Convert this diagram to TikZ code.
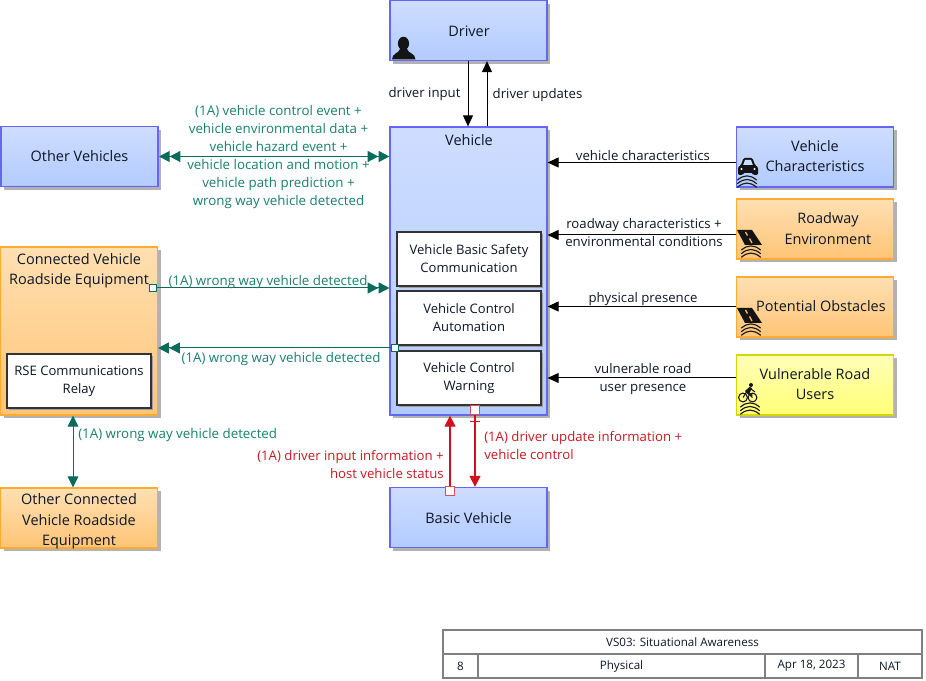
\documentclass[tikz,border=0pt]{standalone}
\usepackage{fontspec}
\setmainfont{Open Sans}
\usetikzlibrary{arrows.meta,shadows}
\definecolor{tealline}{HTML}{0B6B5B}
\definecolor{tealtext}{HTML}{17806F}
\definecolor{redline}{HTML}{D0121E}
\definecolor{redtext}{HTML}{C41A22}
\definecolor{inktext}{HTML}{0E1626}
\definecolor{blueedge}{HTML}{6666F5}
\definecolor{bluetop}{HTML}{CEDDFF}
\definecolor{bluebot}{HTML}{B2CBFF}
\definecolor{orangeedge}{HTML}{FFAB30}
\definecolor{orangetop}{HTML}{FFE0B2}
\definecolor{orangebot}{HTML}{FFC476}
\definecolor{yellowedge}{HTML}{D6D600}
\definecolor{yellowtop}{HTML}{FFFFB8}
\definecolor{yellowbot}{HTML}{FFFF76}
\definecolor{rulegray}{HTML}{808080}
\tikzset{
  x=0.75pt,y=-0.75pt,
  boxtext/.style={font=\fontsize{10.85pt}{15pt}\selectfont,align=center,inner sep=0pt,text=inktext},
  smalltext/.style={font=\fontsize{9.8pt}{13.5pt}\selectfont,align=center,inner sep=0pt,text=inktext},
  flowtext/.style={font=\fontsize{9.9pt}{13.4pt}\selectfont,align=center,inner sep=0pt,text=inktext},
  tealflow/.style={flowtext,font=\fontsize{10pt}{13.4pt}\selectfont,text=tealtext},
  redflow/.style={flowtext,text=redtext},
  cardbox/.style={rectangle,line width=0.95pt,inner sep=0pt,
    drop shadow={shadow xshift=2.4pt,shadow yshift=-2.4pt,fill=black!30,opacity=1}},
  bluecard/.style={cardbox,boxtext,draw=blueedge,top color=bluetop,bottom color=bluebot},
  orangecard/.style={cardbox,boxtext,draw=orangeedge,top color=orangetop,bottom color=orangebot},
  yellowcard/.style={cardbox,boxtext,draw=yellowedge,top color=yellowtop,bottom color=yellowbot},
  whitecard/.style={rectangle,smalltext,draw=black!80,line width=1pt,fill=white,minimum width=108pt,minimum height=40.5pt,
    drop shadow={shadow xshift=1.8pt,shadow yshift=-1.8pt,fill=black!38,opacity=1}},
  wide/.style={minimum width=117.75pt},
  tall/.style={minimum height=45pt},
  flow/.style={draw=black,line width=0.75pt,-{Triangle[length=8.25pt,width=7.5pt]}},
  tealboth/.style={draw=tealline,line width=0.75pt,
    {Triangle[length=8pt,width=8.25pt,sep=0.3pt]Triangle[length=8pt,width=8.25pt]}-{Triangle[length=8pt,width=8.25pt,sep=0.3pt]Triangle[length=8pt,width=8.25pt]}},
  tealone/.style={draw=tealline,line width=0.75pt,-{Triangle[length=8pt,width=8.25pt,sep=0.3pt]Triangle[length=8pt,width=8.25pt]}},
  tealsingle/.style={draw=tealline,line width=0.75pt,{Triangle[length=8.25pt,width=8pt]}-{Triangle[length=8.25pt,width=8pt]}},
  redarrow/.style={draw=redline,line width=0.85pt,-{Triangle[length=8.25pt,width=8.25pt]}},
  tealport/.style={rectangle,draw=tealline,fill=white,line width=0.8pt,minimum size=5.25pt,inner sep=0pt},
  redport/.style={rectangle,draw=redline!75!white,fill=white,line width=0.9pt,minimum size=6.4pt,inner sep=0pt},
  cell/.style={rectangle,draw=rulegray,line width=0.85pt,fill=white,inner sep=0pt,font=\fontsize{8.7pt}{10pt}\selectfont,text=inktext,
    drop shadow={shadow xshift=1.1pt,shadow yshift=-1.1pt,fill=black!28,opacity=1}},
  iconink/.style={fill=black!92,draw=none},
  iconarc/.style={draw=black!90,line width=0.85pt,line cap=round},
}
% Three curved ripples under an icon, centred on #1 with the top at #2.
\newcommand{\ripples}[2]{%
  \foreach \d in {0,3.6,7.2}{%
    \draw[iconarc] (#1-9.5,#2+4+\d) .. controls (#1-3,#2-1.5+\d) and (#1+3,#2-1.5+\d) .. (#1+9.5,#2+4+\d);
  }%
}
% Road segment seen in perspective, with its ripples.
\newcommand{\roadicon}{%
  \fill[iconink] (737,230) -- (752,230) -- (762,245) -- (745,245) -- cycle;
  \draw[orange!60!white,line width=1pt] (745.5,232) -- (747.5,235.5) (749.5,238.5) -- (752,243);
  \ripples{751}{246}
}
\begin{document}
\begin{tikzpicture}
\useasboundingbox (0,0) rectangle (926,681);

% Actors and equipment
\node[bluecard,wide,tall] (driver) at (468.5,30.5) {};
\node[boxtext] (drivertext) at (469,31) {Driver};
\node[bluecard,wide,minimum height=216pt] (vehicle) at (468.5,271) {};
\node[boxtext] (vehicletitle) at (469,140) {Vehicle};
\node[bluecard,wide,tall] (others) at (79.5,156.5) {Other Vehicles};
\node[bluecard,wide,tall] (chars) at (815,157) {};
\node[boxtext] (charstext) at (815,156.3) {Vehicle\\[0.3pt]Characteristics};
\node[orangecard,wide,tall] (roadway) at (815,229) {};
\node[orangecard,wide,tall] (obstacles) at (815,307) {};
\node[yellowcard,wide,tall] (vru) at (815,385) {};
\node[boxtext] (vrutext) at (815,384) {Vulnerable Road\\[0.3pt]Users};
\node[orangecard,wide,minimum height=126pt] (cvrse) at (79,331) {};
\node[boxtext] (cvrsetitle) at (79,271) {Connected Vehicle\\[0.3pt]Roadside Equipment};
\node[orangecard,wide,tall] (othercv) at (79,518) {};
\node[boxtext] (othercvtext) at (79,521.5) {Other Connected\\[0.3pt]Vehicle Roadside\\[0.3pt]Equipment};
\node[bluecard,wide,tall] (basic) at (468.5,517.5) {};
\node[boxtext] (basictext) at (468.5,518) {Basic Vehicle};

% Functional objects
\node[whitecard] (bsc) at (469,259) {Vehicle Basic Safety\\Communication};
\node[whitecard] (automation) at (469,318) {Vehicle Control\\Automation};
\node[whitecard] (warning) at (469,378) {Vehicle Control\\Warning};
\node[whitecard] (relay) at (79,381) {RSE Communications\\Relay};

% Driver silhouette
\fill[iconink] (403.5,43.5) ellipse (5.6 and 6.8);
\fill[iconink] (392,59.5) .. controls (392,53) and (399,53.5) .. (400,49) -- (407,49)
  .. controls (408,53.5) and (415.5,53) .. (415.5,59.5) -- cycle;

% Car seen from the front
\fill[iconink,rounded corners=1pt] (738,175) -- (738,167) -- (741,165) -- (743.5,158) -- (752.5,158)
  -- (755,165) -- (758,167) -- (758,175) -- (753,175) -- (753,173) -- (743,173) -- (743,175) -- cycle;
\fill[bluetop] (745,160) -- (751,160) -- (752.8,165) -- (743.2,165) -- cycle;
\fill[white] (741.5,169) circle (1.2) (754.5,169) circle (1.2);
\ripples{747}{176}

% Road signs
\roadicon
\begin{scope}[shift={(0,78)}]
  \roadicon
\end{scope}
\node[boxtext] (roadwaytext) at (828,228.5) {Roadway\\[0.3pt]Environment};
\node[boxtext] (obstaclestext) at (821,306) {Potential Obstacles};

% Cyclist
\draw[black!90,line width=0.8pt] (743,397.5) circle (4.4) (752.5,397.5) circle (4.4);
\fill[iconink] (751,385) circle (2);
\fill[iconink] (749.5,387) -- (752,388) -- (749.5,393) -- (753,395) -- (751.5,396) -- (746.5,393) -- (745,391) -- cycle;
\draw[black!90,line width=0.8pt] (743,397.5) -- (746.5,392) -- (752.5,397.5) (751,389) -- (755,392);
\ripples{750}{403}

% Driver interface
\draw[flow] (driver.south -| 468,0) -- (vehicle.north -| 468,0);
\draw[flow] (vehicle.north -| 487,0) -- (driver.south -| 487,0);
\node[flowtext] (driverinput) at (424.5,94) {driver input};
\node[flowtext] (driverupdates) at (537.5,95) {driver updates};

% Inputs sensed from the surroundings
\draw[flow] (chars.west |- 0,162.5) -- (vehicle.east |- 0,162.5);
\draw[flow] (roadway.west |- 0,235) -- (vehicle.east |- 0,235);
\draw[flow] (obstacles.west |- 0,306.5) -- (vehicle.east |- 0,306.5);
\draw[flow] (vru.west |- 0,378) -- (vehicle.east |- 0,378);
\node[flowtext] (charslabel) at (643,155.5) {vehicle characteristics};
\node[flowtext] (roadlabel) at (644,232.5) {roadway characteristics +\\environmental conditions};
\node[flowtext] (presencelabel) at (643,299.5) {physical presence};
\node[flowtext] (vrulabel) at (643,379) {vulnerable road\\user presence};

% Vehicle to vehicle exchange
\draw[tealboth] (others.east) -- (vehicle.west |- others.east);
\node[tealflow] (v2vlabel) at (278.5,157) {(1A) vehicle control event +\\vehicle environmental data +\\vehicle hazard event +\\vehicle location and motion +\\vehicle path prediction +\\wrong way vehicle detected};

% Roadside exchange
\node[tealport] (portrse) at (153,288) {};
\node[tealport] (portveh) at (395,348) {};
\draw[tealone] (portrse.east) -- (vehicle.west |- portrse.east);
\draw[tealone] (portveh.west) -- (cvrse.east |- portveh.west);
\draw[tealsingle] (cvrse.south -| 73,0) -- (othercv.north -| 73,0);
\node[tealflow] (rselabelone) at (268,282) {(1A) wrong way vehicle detected};
\node[tealflow] (rselabeltwo) at (281,359) {(1A) wrong way vehicle detected};
\node[tealflow,anchor=west] (rselabelthree) at (78,435.5) {(1A) wrong way vehicle detected};

% Basic vehicle interface
\node[redport] (portbasic) at (450,491) {};
\node[redport] (portwarning) at (475,410) {};
\draw[redarrow] (portbasic.north) -- (vehicle.south -| portbasic.north);
\draw[redarrow] (portwarning.south) -- (basic.north -| portwarning.south);
\coordinate (barleft) at (470,421.5);
\coordinate (barright) at (480,421.5);
\draw[draw=redline,line width=0.85pt] (barleft) -- (barright);
\node[redflow,align=right,anchor=east] (redlabelleft) at (444,464.5) {(1A) driver input information +\\host vehicle status};
\node[redflow,align=left,anchor=west] (redlabelright) at (484,445.5) {(1A) driver update information +\\vehicle control};

% Title block
\node[cell,minimum width=359.25pt,minimum height=18pt] (title) at (682.5,642) {\raisebox{-0.6pt}{VS03: Situational Awareness}};
\node[cell,minimum width=26.25pt,minimum height=18pt] (sheet) at (460.5,666) {\raisebox{-0.6pt}{8}};
\node[cell,minimum width=215.25pt,minimum height=18pt] (view) at (621.5,666) {\raisebox{-0.6pt}{Physical}};
\node[cell,minimum width=69.75pt,minimum height=18pt] (date) at (811.5,666) {\raisebox{-0.6pt}{Apr 18, 2023}};
\node[cell,minimum width=48pt,minimum height=18pt] (scope) at (890,666) {\raisebox{-0.6pt}{NAT}};
\end{tikzpicture}
\end{document}
